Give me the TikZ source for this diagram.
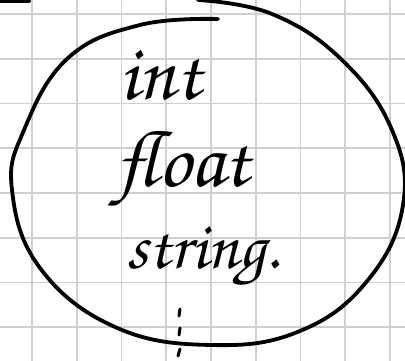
\documentclass[tikz,border=0pt]{standalone}
\usepackage[T1]{fontenc}
\tikzset{
  gridline/.style={draw=black!19, line width=1.8pt},
  pen/.style={draw=black, line width=3.8pt, line cap=round, line join=round},
  hand/.style={font=\fontencoding{T1}\fontfamily{pzc}\fontseries{mb}\fontshape{it}\selectfont, inner sep=0pt}
}
\begin{document}
\begin{tikzpicture}[x=1pt,y=-1pt]
\useasboundingbox (0,0) rectangle (405,361);
\fill[white] (0,0) rectangle (405,361);
% grid
\foreach \i in {0,...,8} { \draw[gridline] ({32+44.75*\i},0) -- ({32+44.75*\i},361); }
\foreach \j in {0,...,7} { \draw[gridline] (0,{14+44.75*\j}) -- (405,{14+44.75*\j}); }
% sketch strokes
\draw[pen] (0,1) -- (29,1);
\draw[pen] plot[smooth, tension=0.7] coordinates {(218,19) (140,25) (68,58) (24,130) (12,190) (40,268) (115,327) (211,345) (300,331) (368,280) (403,205) (392,130) (342,60) (272,14) (198,0)};
% texts
\node[hand, anchor=base] (int) at (160,100) {\fontsize{80}{80}\selectfont int};
\node[hand, anchor=base] (float) at (183,186) {\fontsize{80}{80}\selectfont float};
\node[hand, anchor=base] (string) at (203,269) {\fontsize{68}{68}\selectfont string.};
% vertical dots
\draw[pen, line width=3pt] (180,309) -- (179,316);
\draw[pen, line width=3pt] (180,328) -- (179,335);
\draw[pen, line width=3pt] (180,349) -- (178,356);
\end{tikzpicture}
\end{document}
